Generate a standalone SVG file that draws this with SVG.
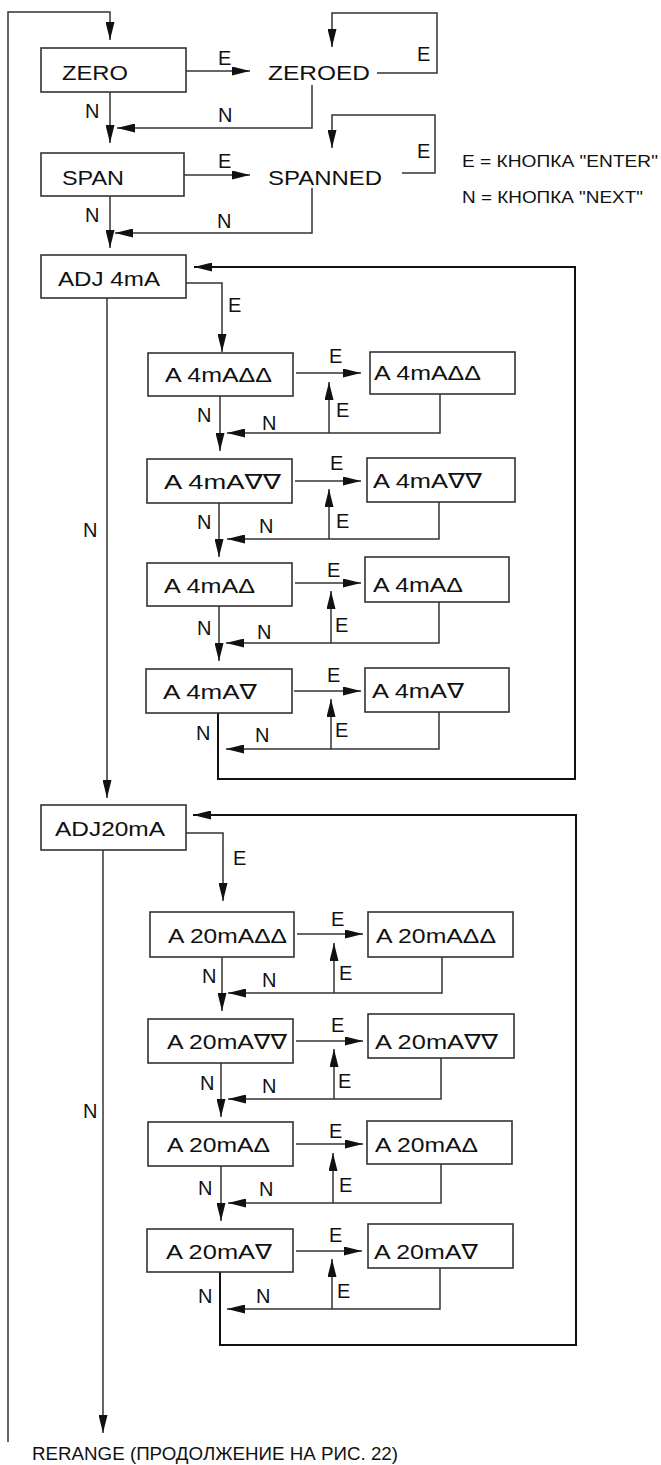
<svg xmlns="http://www.w3.org/2000/svg" width="661" height="1465" viewBox="0 0 661 1465">
<style>
text{font-family:"Liberation Sans",Arial,"DejaVu Sans",sans-serif;font-size:21px;fill:#111}
.lb{font-size:20px}
.lg{font-size:17px}
.ft{font-size:18px}
.box{fill:#fff;stroke:#333;stroke-width:1.6}
.a{fill:none;stroke:#333;stroke-width:1.5;marker-end:url(#ah)}
.lpa{fill:none;stroke:#111;stroke-width:2;marker-end:url(#ah)}
</style>
<defs>
<marker id="ah" markerUnits="userSpaceOnUse" viewBox="0 0 18 9" refX="18" refY="4.5" markerWidth="18" markerHeight="9" orient="auto">
<path d="M0,0 L18,4.5 L0,9 z" fill="#111"/>
</marker>
</defs>
<rect width="661" height="1465" fill="#fff"/>

<g id="connectors">
<polyline class="a" points="8,1442 8,12 110,12 110,40"/>
<polyline class="a" points="186,71 250,71"/>
<polyline class="a" points="377,73 437,73 437,13 332,13 332,47"/>
<polyline class="a" points="110,92 110,143"/>
<polyline class="a" points="312,85 312,128 117,128"/>
<polyline class="a" points="184,175 250,175"/>
<polyline class="a" points="402,173 435,173 435,115 332,115 332,148"/>
<polyline class="a" points="110,196 110,248"/>
<polyline class="a" points="312,188 312,233 115,233"/>
<polyline class="lpa" points="218,713 218,779 575,779 575,267 194,267"/>
<polyline class="a" points="186,283 222,283 222,352"/>
<polyline class="a" points="107,298 107,798"/>
<polyline class="a" points="296,373 361,373"/>
<polyline class="a" points="329,433 329,382"/>
<polyline class="a" points="440,394 440,433 227,433"/>
<polyline class="a" points="220,396 220,451"/>
<polyline class="a" points="295,481 361,481"/>
<polyline class="a" points="329,539 329,489"/>
<polyline class="a" points="439,502 439,539 227,539"/>
<polyline class="a" points="219,503 219,557"/>
<polyline class="a" points="295,583 361,583"/>
<polyline class="a" points="331,643 331,591"/>
<polyline class="a" points="439,602 439,643 226,643"/>
<polyline class="a" points="219,606 219,661"/>
<polyline class="a" points="294,691 361,691"/>
<polyline class="a" points="331,749 331,699"/>
<polyline class="a" points="439,712 439,749 226,749"/>
<polyline class="lpa" points="220,1272 220,1345 576,1345 576,815 193,815"/>
<polyline class="a" points="186,833 223,833 223,901"/>
<polyline class="a" points="103,850 103,1433"/>
<polyline class="a" points="297,934 363,934"/>
<polyline class="a" points="334,993 334,943"/>
<polyline class="a" points="442,957 442,993 228,993"/>
<polyline class="a" points="222,957 222,1011"/>
<polyline class="a" points="296,1041 363,1041"/>
<polyline class="a" points="334,1099 334,1049"/>
<polyline class="a" points="441,1058 441,1099 228,1099"/>
<polyline class="a" points="221,1063 221,1117"/>
<polyline class="a" points="296,1144 363,1144"/>
<polyline class="a" points="333,1203 333,1153"/>
<polyline class="a" points="441,1164 441,1203 228,1203"/>
<polyline class="a" points="221,1166 221,1221"/>
<polyline class="a" points="296,1251 362,1251"/>
<polyline class="a" points="332,1309 332,1259"/>
<polyline class="a" points="440,1268 440,1309 227,1309"/>
</g>

<g id="labels" class="lb">
<text class="lb" x="218" y="65">E</text>
<text class="lb" x="417" y="61">E</text>
<text class="lb" x="85" y="118">N</text>
<text class="lb" x="218" y="122">N</text>
<text class="lb" x="218" y="168">E</text>
<text class="lb" x="417" y="158">E</text>
<text class="lb" x="85" y="222">N</text>
<text class="lb" x="217" y="228">N</text>
<text class="lb" x="228" y="312">E</text>
<text class="lb" x="83" y="537">N</text>

<text class="lb" x="329" y="363">E</text><text class="lb" x="336" y="417">E</text><text class="lb" x="197" y="422">N</text><text class="lb" x="262" y="430">N</text>
<text class="lb" x="330" y="470">E</text><text class="lb" x="336" y="528">E</text><text class="lb" x="197" y="529">N</text><text class="lb" x="259" y="533">N</text>
<text class="lb" x="327" y="577">E</text><text class="lb" x="335" y="632">E</text><text class="lb" x="197" y="635">N</text><text class="lb" x="257" y="639">N</text>
<text class="lb" x="327" y="682">E</text><text class="lb" x="335" y="737">E</text><text class="lb" x="196" y="740">N</text><text class="lb" x="255" y="742">N</text>

<text class="lb" x="233" y="865">E</text>
<text class="lb" x="83" y="1118">N</text>

<text class="lb" x="331" y="926">E</text><text class="lb" x="339" y="980">E</text><text class="lb" x="202" y="983">N</text><text class="lb" x="262" y="987">N</text>
<text class="lb" x="331" y="1032">E</text><text class="lb" x="338" y="1088">E</text><text class="lb" x="200" y="1090">N</text><text class="lb" x="262" y="1093">N</text>
<text class="lb" x="329" y="1138">E</text><text class="lb" x="339" y="1192">E</text><text class="lb" x="198" y="1195">N</text><text class="lb" x="259" y="1196">N</text>
<text class="lb" x="329" y="1242">E</text><text class="lb" x="337" y="1298">E</text><text class="lb" x="198" y="1303">N</text><text class="lb" x="256" y="1303">N</text>

<text class="lg" x="462" y="167" textLength="196" lengthAdjust="spacingAndGlyphs">E = КНОПКА "ENTER"</text>
<text class="lg" x="462" y="203" textLength="181" lengthAdjust="spacingAndGlyphs">N = КНОПКА "NEXT"</text>
<text class="ft" x="32" y="1460" textLength="366" lengthAdjust="spacingAndGlyphs">RERANGE (ПРОДОЛЖЕНИЕ НА РИС. 22)</text>
</g>

<g id="n-zero"><rect class="box" x="41" y="48" width="145" height="44"/><text x="62" y="80" textLength="66" lengthAdjust="spacingAndGlyphs">ZERO</text></g>
<g id="n-zeroed"><text x="268" y="80" textLength="102" lengthAdjust="spacingAndGlyphs">ZEROED</text></g>
<g id="n-span"><rect class="box" x="41" y="153" width="143" height="43"/><text x="62" y="185" textLength="62" lengthAdjust="spacingAndGlyphs">SPAN</text></g>
<g id="n-spanned"><text x="268" y="185" textLength="114" lengthAdjust="spacingAndGlyphs">SPANNED</text></g>

<g id="n-adj4"><rect class="box" x="41" y="255" width="145" height="43"/><text x="58" y="286" textLength="102" lengthAdjust="spacingAndGlyphs">ADJ 4mA</text></g>

<g id="n-4uu-l"><rect class="box" x="148" y="353" width="145" height="43"/><text x="165" y="382" textLength="107" lengthAdjust="spacingAndGlyphs">A 4mAΔΔ</text></g>
<g id="n-4uu-r"><rect class="box" x="370" y="352" width="145" height="42"/><text x="374" y="380" textLength="107" lengthAdjust="spacingAndGlyphs">A 4mAΔΔ</text></g>
<g id="n-4dd-l"><rect class="box" x="147" y="459" width="145" height="44"/><text x="164" y="489" textLength="117" lengthAdjust="spacingAndGlyphs">A 4mA∇∇</text></g>
<g id="n-4dd-r"><rect class="box" x="367" y="458" width="148" height="44"/><text x="373" y="488" textLength="109" lengthAdjust="spacingAndGlyphs">A 4mA∇∇</text></g>
<g id="n-4u-l"><rect class="box" x="147" y="563" width="145" height="43"/><text x="164" y="593" textLength="91" lengthAdjust="spacingAndGlyphs">A 4mAΔ</text></g>
<g id="n-4u-r"><rect class="box" x="365" y="557" width="144" height="45"/><text x="373" y="592" textLength="90" lengthAdjust="spacingAndGlyphs">A 4mAΔ</text></g>
<g id="n-4d-l"><rect class="box" x="146" y="669" width="146" height="44"/><text x="163" y="699" textLength="94" lengthAdjust="spacingAndGlyphs">A 4mA∇</text></g>
<g id="n-4d-r"><rect class="box" x="365" y="668" width="144" height="44"/><text x="372" y="698" textLength="92" lengthAdjust="spacingAndGlyphs">A 4mA∇</text></g>

<g id="n-adj20"><rect class="box" x="41" y="805" width="145" height="45"/><text x="55" y="836" textLength="110" lengthAdjust="spacingAndGlyphs">ADJ20mA</text></g>

<g id="n-20uu-l"><rect class="box" x="150" y="912" width="144" height="45"/><text x="168" y="943" textLength="119" lengthAdjust="spacingAndGlyphs">A 20mAΔΔ</text></g>
<g id="n-20uu-r"><rect class="box" x="368" y="912" width="145" height="45"/><text x="376" y="943" textLength="120" lengthAdjust="spacingAndGlyphs">A 20mAΔΔ</text></g>
<g id="n-20dd-l"><rect class="box" x="148" y="1019" width="145" height="44"/><text x="167" y="1049" textLength="120" lengthAdjust="spacingAndGlyphs">A 20mA∇∇</text></g>
<g id="n-20dd-r"><rect class="box" x="368" y="1014" width="146" height="44"/><text x="375" y="1049" textLength="123" lengthAdjust="spacingAndGlyphs">A 20mA∇∇</text></g>
<g id="n-20u-l"><rect class="box" x="148" y="1122" width="145" height="44"/><text x="167" y="1152" textLength="103" lengthAdjust="spacingAndGlyphs">A 20mAΔ</text></g>
<g id="n-20u-r"><rect class="box" x="367" y="1121" width="145" height="43"/><text x="375" y="1152" textLength="103" lengthAdjust="spacingAndGlyphs">A 20mAΔ</text></g>
<g id="n-20d-l"><rect class="box" x="147" y="1229" width="146" height="43"/><text x="166" y="1259" textLength="106" lengthAdjust="spacingAndGlyphs">A 20mA∇</text></g>
<g id="n-20d-r"><rect class="box" x="368" y="1224" width="145" height="44"/><text x="374" y="1259" textLength="104" lengthAdjust="spacingAndGlyphs">A 20mA∇</text></g>
</svg>
